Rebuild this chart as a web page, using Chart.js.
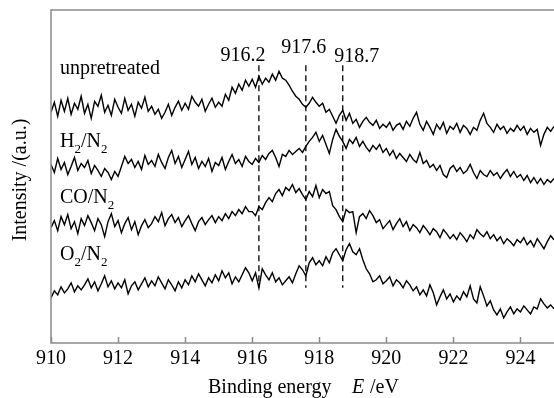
<!DOCTYPE html>
<html>
<head>
<meta charset="utf-8">
<title>Binding energy spectra</title>
<script src="https://cdn.jsdelivr.net/npm/chart.js@4.4.1/dist/chart.umd.min.js"></script>
<style>
    html, body { margin: 0; padding: 0; background: #fff; }
    #wrap { width: 554px; height: 398px; }
</style>
</head>
<body>
<div id="wrap"><canvas id="xpsChart" width="554" height="398"></canvas></div>
<script>
// --- Spectra data (intensity, arbitrary units), 910.0 .. 925.0 eV every 0.1 eV ---
const energyStart = 910;
const energyStep = 0.1;

const unpretreated = [
    230, 240, 226, 242, 231, 244, 228, 239, 233, 246,
    229, 238, 224, 241, 236, 247, 230, 237, 227, 243,
    235, 229, 244, 232, 238, 226, 240, 234, 245, 231,
    236, 228, 233, 224, 230, 238, 227, 235, 241, 232,
    239, 233, 246, 240, 236, 243, 231, 238, 244, 235,
    240, 236, 248, 242, 255, 249, 258, 252, 262, 256,
    263, 255, 266, 258, 264, 260, 268, 262, 271, 264,
    262, 257, 251, 246, 243, 238, 235, 239, 245, 240,
    236, 239, 230, 233, 226, 219, 227, 232, 222, 229,
    219, 223, 215, 221, 225, 220, 217, 222, 214, 218,
    215, 220, 212, 217, 219, 213, 221, 216, 224, 230,
    218, 212, 221, 215, 208, 218, 213, 220, 209, 216,
    213, 219, 210, 217, 214, 208, 215, 212, 222, 229,
    219, 215, 210, 218, 213, 216, 209, 214, 211, 217,
    212, 216, 208, 214, 210, 213, 197, 208, 215, 211,
    216
];

const h2n2 = [
    178, 170, 184, 173, 180, 168, 176, 185, 172, 179,
    175, 182, 169, 177, 172, 166, 174, 170, 163, 171,
    166, 176, 186, 179, 183, 175, 181, 173, 187, 178,
    182, 176, 188, 180, 174, 185, 192, 179, 186, 175,
    183, 191, 178, 185, 174, 181, 176, 184, 171, 180,
    177, 185, 173, 181, 188, 179, 183, 176, 186, 181,
    178, 184, 180, 187, 183, 189, 192, 185, 176, 188,
    186, 192, 188, 191, 194, 190, 196, 201, 205, 210,
    201, 207, 198, 189, 203, 213, 206, 201, 194, 203,
    199, 205, 196, 201, 195, 191, 197, 193, 198, 190,
    194, 187, 192, 184, 189, 185, 181, 188, 183, 180,
    190, 179, 182, 175, 178, 172, 177, 168, 165, 174,
    177, 171, 175, 169, 172, 178, 170, 164, 172, 168,
    166, 172, 167, 170, 164, 169, 173, 166, 171, 165,
    168, 162, 167, 160, 165, 159, 164, 158, 163, 160,
    164
];

const con2 = [
    115, 122, 112, 126, 118, 128, 114, 121, 109, 124,
    117, 127, 120, 112, 124, 118, 106, 121, 129, 116,
    122, 110, 119, 125, 113, 121, 108, 117, 123, 115,
    119, 126, 121, 130, 117, 124, 128, 120, 125, 116,
    122, 127, 119, 112, 121, 125, 118, 123, 127, 120,
    126, 122, 129, 124, 131, 127, 133, 129, 136, 131,
    131, 127, 136, 133, 140, 145, 141, 149, 153, 147,
    155, 152, 158, 150, 154, 148, 143, 151, 146, 157,
    145, 153, 149, 151, 137, 133, 126, 121, 133, 130,
    131, 110, 126, 129, 124, 132, 127, 120, 123, 114,
    118, 122, 113, 119, 124, 116, 121, 112, 118, 115,
    110, 117, 113, 108, 114, 111, 105, 113, 109, 104,
    108, 103, 110, 106, 101, 108, 104, 113, 109, 106,
    111, 104, 108, 102, 106, 99, 104, 101, 97, 103,
    100, 105, 98, 102, 96, 104, 99, 94, 101, 107,
    103
];

const o2n2 = [
    45, 52, 48, 56, 50, 54, 60, 51, 57, 53,
    58, 64, 55, 61, 52, 59, 67, 56, 62, 54,
    60, 55, 63, 49, 57, 61, 53, 59, 65, 56,
    62, 57, 66, 60, 54, 63, 58, 52, 61, 55,
    63, 58, 67, 61, 69, 63, 57, 65, 60, 68,
    62, 72, 65, 70, 59, 66, 61, 68, 75, 70,
    62, 70, 55, 74, 68, 63, 70, 61, 65, 58,
    62, 66, 60, 69, 77, 73, 67, 80, 85, 78,
    82, 77, 86, 80, 90, 94, 88, 82, 93, 99,
    91, 88, 94, 83, 74, 69, 61, 63, 67, 59,
    62, 66, 57, 63, 60, 55, 62, 58, 52, 56,
    48, 53, 47, 58, 50, 38, 46, 53, 44, 49,
    41, 47, 43, 51, 46, 57, 44, 40, 56, 47,
    37, 42, 33, 28, 34, 25, 31, 36, 29, 34,
    31, 37, 33, 29, 36, 34, 44, 39, 35, 38,
    34
];

const seriesNames = ['unpretreated', 'H_2/N_2', 'CO/N_2', 'O_2/N_2'];
const xTickValues = [910, 912, 914, 916, 918, 920, 922, 924];
const peakEnergies = [916.2, 917.6, 918.7];
const peakLabels = ['916.2', '917.6', '918.7'];

// vertical extent of the dashed peak markers, in intensity units
const peakLineTop = 277;
const peakLineBottom = 55;

const serif = "'Liberation Serif', 'Times New Roman', serif";
const axisGray = '#8a8a8a';

const toPoints = values => values.map((v, i) => ({ x: energyStart + i * energyStep, y: v }));

const spectrumStyle = {
    borderColor: '#000',
    borderWidth: 1.4,
    pointRadius: 0,
    tension: 0,
    fill: false
};

const datasets = [unpretreated, h2n2, con2, o2n2].map((values, i) => ({
    label: seriesNames[i],
    data: toPoints(values),
    ...spectrumStyle
}));

peakEnergies.forEach((e, i) => {
    datasets.push({
        label: peakLabels[i],
        data: [{ x: e, y: peakLineTop }, { x: e, y: peakLineBottom }],
        borderColor: '#000',
        borderWidth: 1.3,
        borderDash: [6, 4],
        pointRadius: 0,
        fill: false
    });
});

// draws text where "_c" puts the next character as a subscript
function drawRich(ctx, text, x, y, size) {
    let cx = x;
    for (let i = 0; i < text.length; i++) {
        let ch = text[i];
        if (ch === '_') {
            ch = text[++i];
            ctx.font = `${Math.round(size * 0.65)}px ${serif}`;
            ctx.fillText(ch, cx, y + size * 0.28);
        } else {
            ctx.font = `${size}px ${serif}`;
            ctx.fillText(ch, cx, y);
        }
        cx += ctx.measureText(ch).width;
    }
}

// --- Frame, inward ticks and all the text around the plot ---
const decorations = {
    id: 'decorations',
    afterDraw(chart) {
        const { ctx, chartArea: area, scales: { x } } = chart;
        ctx.save();

        // axes frame (left, bottom, top)
        ctx.strokeStyle = axisGray;
        ctx.lineWidth = 1.5;
        ctx.beginPath();
        ctx.moveTo(area.right, area.top);
        ctx.lineTo(area.left, area.top);
        ctx.lineTo(area.left, area.bottom);
        ctx.lineTo(area.right, area.bottom);
        xTickValues.forEach(v => {
            const px = Math.round(x.getPixelForValue(v)) + 0.5;
            ctx.moveTo(px, area.bottom);
            ctx.lineTo(px, area.bottom - 6);
        });
        ctx.stroke();

        ctx.fillStyle = '#000';
        ctx.textBaseline = 'alphabetic';

        // peak position labels
        const labelShift = [[-16, 61], [-2, 53], [14, 62]];
        ctx.font = `20px ${serif}`;
        ctx.textAlign = 'center';
        peakEnergies.forEach((e, i) => {
            ctx.fillText(peakLabels[i], x.getPixelForValue(e) + labelShift[i][0], labelShift[i][1]);
        });

        // series names
        ctx.textAlign = 'left';
        const nameBaselines = [74, 147, 203, 260];
        seriesNames.forEach((name, i) => {
            drawRich(ctx, name, area.left + 9, nameBaselines[i], 20);
        });

        // x axis title with italic E
        ctx.font = `20px ${serif}`;
        ctx.fillText('Binding energy', 208, 393);
        ctx.font = `italic 20px ${serif}`;
        ctx.fillText('E', 352, 393);
        ctx.font = `20px ${serif}`;
        ctx.fillText('/eV', 370, 393);

        // y axis title
        ctx.translate(21, 180);
        ctx.rotate(-Math.PI / 2);
        ctx.textAlign = 'center';
        ctx.textBaseline = 'middle';
        ctx.fillText('Intensity /(a.u.)', 0, 0);

        ctx.restore();
    }
};

new Chart(document.getElementById('xpsChart'), {
    type: 'line',
    data: { datasets },
    options: {
        responsive: false,
        animation: false,
        layout: { padding: { left: 51, top: 10, right: 0, bottom: 23 } },
        plugins: {
            legend: { display: false },
            tooltip: { enabled: false }
        },
        scales: {
            x: {
                type: 'linear',
                min: 910,
                max: 925,
                afterBuildTicks: axis => {
                    axis.ticks = xTickValues.map(v => ({ value: v }));
                },
                ticks: {
                    color: '#000',
                    font: { family: serif, size: 20 },
                    padding: 4,
                    maxRotation: 0,
                    autoSkip: false
                },
                grid: { display: false, drawTicks: false },
                border: { display: false }
            },
            y: {
                display: false,
                min: 0,
                max: 332
            }
        }
    },
    plugins: [decorations]
});
</script>
</body>
</html>
